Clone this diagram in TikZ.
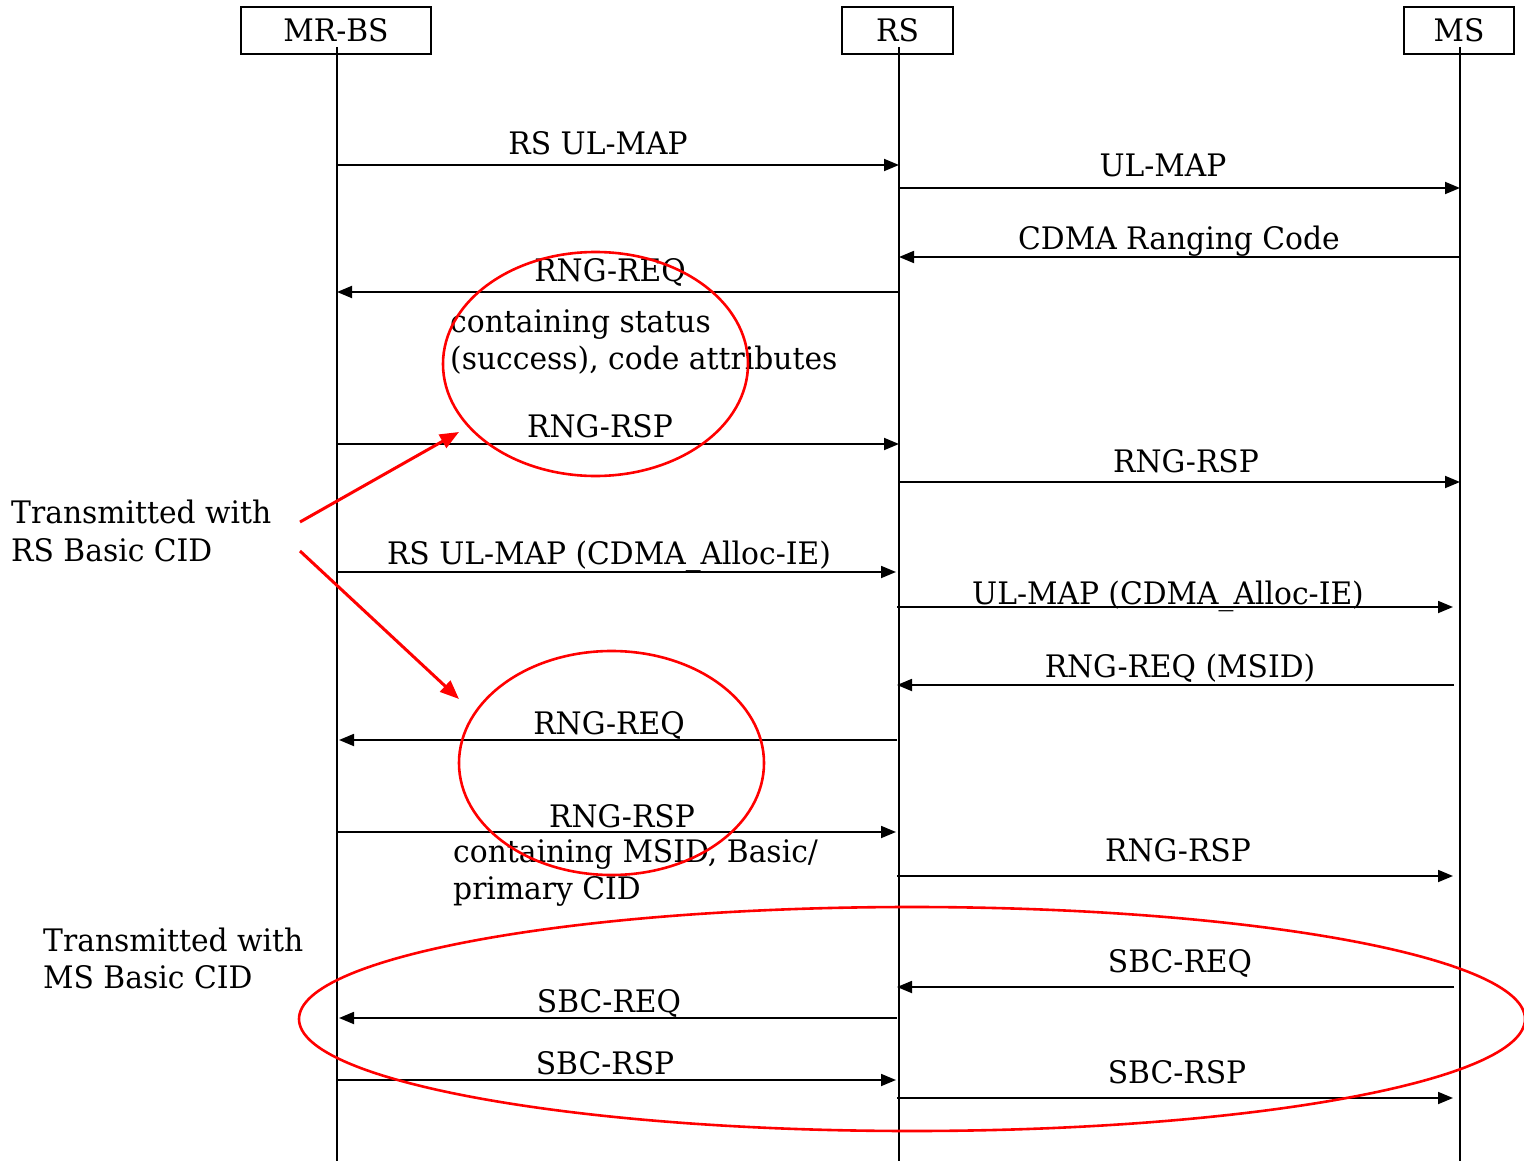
\documentclass[tikz,border=0pt]{standalone}
\usepackage{fontspec}
\setmainfont[FakeStretch=0.96]{DejaVu Serif}
\usetikzlibrary{arrows.meta,shapes.geometric}
\begin{document}
\begin{tikzpicture}[x=1pt,y=-1pt,
  every node/.style={font=\fontsize{31}{37}\selectfont, inner sep=0pt},
  box/.style={draw, line width=1.8pt, minimum height=47pt},
  life/.style={line width=1.8pt},
  msg/.style={line width=1.8pt, -{Triangle[length=15pt,width=12pt]}},
  lbl/.style={anchor=base},
  note/.style={anchor=base west},
  redarrow/.style={red, line width=3pt, -{Triangle[length=19pt,width=15pt]}},
  redring/.style={draw, ellipse, red, line width=2.6pt}]
\useasboundingbox (0,0) rectangle (1524,1161);
% participants
\node[box, minimum width=190pt] (mrbs) at (336,30.5) {MR-BS};
\node[box, minimum width=111pt] (rs) at (897.5,30.5) {RS};
\node[box, minimum width=110pt] (ms) at (1459,30.5) {MS};
\coordinate (mrbsend) at (337,1161);
\coordinate (rsend) at (899,1161);
\coordinate (msend) at (1460,1161);
\draw[life] (mrbs.south -| mrbsend) ++(0,-8) -- (mrbsend);
\draw[life] (rs.south -| rsend) ++(0,-8) -- (rsend);
\draw[life] (ms.south -| msend) ++(0,-8) -- (msend);
% messages
\foreach \i/\y/\xa/\xb/\lx/\ly/\t in {
  1/165/337/899/598/155/{RS UL-MAP},
  2/188/899/1460/1163/177/{UL-MAP},
  3/257/1460/899/1179/250/{CDMA Ranging Code},
  4/292/899/337/610/282/{RNG-REQ},
  5/444/337/899/600/437/{RNG-RSP},
  6/482/899/1460/1186/472/{RNG-RSP},
  7/572/337/896/609/564/{RS UL-MAP (CDMA\_Alloc-IE)},
  8/607/897/1453/1168/604/{UL-MAP (CDMA\_Alloc-IE)},
  9/685/1454/897/1180/677/{RNG-REQ (MSID)},
  10/740/897/339/609/734/{RNG-REQ},
  11/832/337/896/622/827/{RNG-RSP},
  12/876/897/1453/1178/861/{RNG-RSP},
  13/987/1454/897/1180/972/{SBC-REQ},
  14/1018/897/339/609/1012/{SBC-REQ},
  15/1080/337/896/605/1074/{SBC-RSP},
  16/1098/897/1453/1177/1083/{SBC-RSP}}{
  \coordinate (s\i) at (\xa,\y);
  \coordinate (e\i) at (\xb,\y);
  \draw[msg] (s\i) -- (e\i);
  \node[lbl] (l\i) at (\lx,\ly) {\t};
}
% notes
\node[note] (n1a) at (450,332) {containing status};
\node[note] (n1b) at (450,369) {(success), code attributes};
\node[note] (n2a) at (453,862) {containing MSID, Basic/};
\node[note] (n2b) at (453,899) {primary CID};
\node[note] (t1a) at (11,523) {Transmitted with};
\node[note] (t1b) at (11,561) {RS Basic CID};
\node[note] (t2a) at (43,951) {Transmitted with};
\node[note] (t2b) at (43,988) {MS Basic CID};
% red rings
\node[redring, minimum width=305pt, minimum height=224pt] (ring1) at (595.5,364) {};
\node[redring, minimum width=305pt, minimum height=224pt] (ring2) at (611.5,763) {};
\node[redring, minimum width=1226pt, minimum height=224pt] (ring3) at (912,1019) {};
% red arrows
\coordinate (ra1) at (300,522);
\coordinate (ra2) at (300,551);
\coordinate (rb1) at (459,432);
\coordinate (rb2) at (459,699);
\draw[redarrow] (ra1) -- (rb1);
\draw[redarrow] (ra2) -- (rb2);
\end{tikzpicture}
\end{document}
